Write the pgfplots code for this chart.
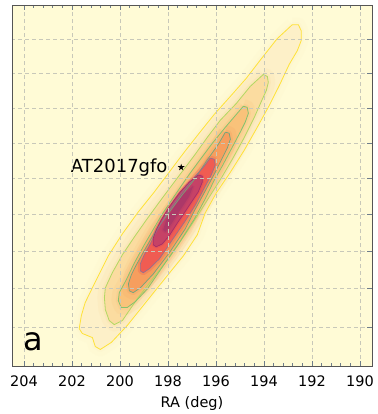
\documentclass[border=0pt]{standalone}
\usepackage{pgfplots}
\usepackage{pgfplotstable}
\usepackage{fontspec}
\setmainfont{DejaVu Sans}
\pgfplotsset{compat=1.18}

\definecolor{bgc}{RGB}{255,251,214}
\definecolor{f1}{RGB}{253,240,200}
\definecolor{f2}{RGB}{251,220,160}
\definecolor{f3}{RGB}{249,194,122}
\definecolor{f4}{RGB}{246,158,94}
\definecolor{f5}{RGB}{240,92,82}
\definecolor{f6}{RGB}{198,66,102}
\definecolor{f7}{RGB}{172,56,104}
\definecolor{c1}{RGB}{255,226,55}
\definecolor{c2}{RGB}{178,216,98}
\definecolor{c3}{RGB}{132,194,110}
\definecolor{c4}{RGB}{112,165,125}
\definecolor{c5}{RGB}{150,112,140}
\definecolor{c6}{RGB}{165,45,105}
\definecolor{tickc}{RGB}{110,125,140}
\definecolor{framec}{RGB}{85,85,85}
\definecolor{gridc}{RGB}{200,200,185}

\pgfdeclareplotmark{fstar}{%
  \pgfpathmoveto{\pgfpointpolar{90}{\pgfplotmarksize}}%
  \pgfpathlineto{\pgfpointpolar{126}{0.382\pgfplotmarksize}}%
  \pgfpathlineto{\pgfpointpolar{162}{\pgfplotmarksize}}%
  \pgfpathlineto{\pgfpointpolar{198}{0.382\pgfplotmarksize}}%
  \pgfpathlineto{\pgfpointpolar{234}{\pgfplotmarksize}}%
  \pgfpathlineto{\pgfpointpolar{270}{0.382\pgfplotmarksize}}%
  \pgfpathlineto{\pgfpointpolar{306}{\pgfplotmarksize}}%
  \pgfpathlineto{\pgfpointpolar{342}{0.382\pgfplotmarksize}}%
  \pgfpathlineto{\pgfpointpolar{18}{\pgfplotmarksize}}%
  \pgfpathlineto{\pgfpointpolar{54}{0.382\pgfplotmarksize}}%
  \pgfpathclose
  \pgfusepathqfill
}

% contour levels (RA, Dec in degrees)
\pgfplotstableread{
ra dec
192.82 -15.16
192.57 -15.16
192.45 -15.51
192.45 -16.10
192.61 -16.68
192.95 -17.49
193.36 -18.71
193.78 -19.86
194.28 -21.11
194.82 -22.41
195.40 -23.65
195.99 -24.81
196.45 -25.91
196.78 -27.11
197.36 -28.25
198.07 -29.37
198.90 -30.68
199.70 -31.93
200.36 -32.80
200.82 -33.16
201.03 -33.01
201.15 -32.55
201.57 -32.34
201.70 -32.09
201.61 -31.41
201.45 -30.73
201.07 -29.74
200.49 -28.25
199.90 -27.05
199.24 -25.86
198.57 -24.75
197.95 -23.65
197.32 -22.52
196.70 -21.45
196.07 -20.37
195.40 -19.34
194.74 -18.30
194.11 -17.15
193.45 -15.98
192.82 -15.16
}\levA

\pgfplotstableread{
ra dec
194.03 -18.07
193.86 -18.19
193.82 -18.53
193.90 -18.99
194.07 -19.51
194.40 -20.54
194.86 -21.79
195.32 -22.92
195.78 -23.98
196.28 -25.03
196.78 -26.08
197.24 -27.00
197.90 -28.25
198.61 -29.42
199.28 -30.53
199.90 -31.67
200.24 -31.88
200.45 -31.67
200.61 -31.10
200.65 -30.47
200.61 -29.95
200.32 -29.15
199.90 -28.19
199.40 -27.22
198.90 -26.29
198.36 -25.31
197.86 -24.42
197.36 -23.53
196.86 -22.63
196.36 -21.68
195.82 -20.71
195.15 -19.74
194.57 -18.76
194.03 -18.07
}\levB

\pgfplotstableread{
ra dec
194.86 -19.91
194.70 -19.97
194.65 -20.31
194.78 -20.82
194.99 -21.39
195.32 -22.24
195.74 -23.31
196.07 -24.09
196.45 -25.14
196.90 -26.24
197.53 -27.54
198.20 -28.78
198.86 -30.01
199.36 -30.68
199.70 -30.99
199.95 -30.99
200.07 -30.63
200.03 -30.21
199.74 -29.53
199.40 -28.62
198.99 -27.65
198.65 -26.89
198.24 -25.97
197.65 -24.81
197.11 -23.76
196.65 -22.92
196.15 -22.02
195.61 -21.11
195.15 -20.37
194.86 -19.91
}\levC

\pgfplotstableread{
ra dec
195.61 -21.39
195.45 -21.45
195.40 -21.79
195.53 -22.30
195.74 -22.86
196.03 -23.65
196.45 -24.70
196.86 -25.69
197.28 -26.78
197.95 -28.09
198.61 -29.21
199.15 -29.95
199.45 -30.21
199.61 -30.11
199.65 -29.74
199.53 -29.26
199.32 -28.73
198.90 -27.76
198.49 -26.84
198.07 -26.08
197.45 -24.98
196.86 -23.98
196.40 -23.03
195.90 -22.07
195.61 -21.39
}\levD

\pgfplotstableread{
ra dec
196.24 -22.86
196.07 -22.92
196.03 -23.25
196.20 -23.81
196.53 -24.64
196.86 -25.47
197.28 -26.35
197.82 -27.38
198.36 -28.41
198.78 -28.94
199.03 -29.15
199.15 -29.05
199.15 -28.67
198.99 -28.19
198.78 -27.71
198.45 -26.84
197.95 -25.75
197.40 -24.75
196.86 -23.87
196.49 -23.31
196.24 -22.86
}\levE

\pgfplotstableread{
ra dec
196.74 -23.81
196.57 -23.87
196.57 -24.20
196.74 -24.75
196.99 -25.25
197.24 -25.75
197.61 -26.46
197.95 -27.16
198.24 -27.60
198.49 -27.76
198.61 -27.65
198.61 -27.27
198.49 -26.84
198.28 -26.29
197.95 -25.58
197.53 -24.81
197.11 -24.20
196.74 -23.81
}\levF

\pgfplotstableread{
ra dec
196.95 -24.42
197.11 -24.98
197.49 -25.75
197.86 -26.51
198.11 -26.95
198.20 -26.84
198.07 -26.29
197.74 -25.58
197.36 -24.86
196.95 -24.42
}\levG

\pgfplotsset{
  soft/.style={draw=#1, draw opacity=0.16, line width=14pt, line join=round},
  solid fill/.style={draw=#1, draw opacity=0.3, line width=5pt, line join=round, fill=#1},
}

\begin{document}
\begin{tikzpicture}
\begin{axis}[
  scale only axis, width=360pt, height=361pt,
  x dir=reverse, xmin=189.5, xmax=204.5,
  ymin=-34, ymax=-14,
  y coord trafo/.code={\pgfmathparse{ln(tan(45+0.5*(#1)))}},
  xtick={190,192,...,204}, minor x tick num=4,
  ytick={-34,-32,...,-14}, minor y tick num=4,
  yticklabels={}, ytick pos=right, xtick pos=both, xticklabel pos=lower,
  major tick length=5pt, minor tick length=3pt,
  every tick/.style={draw=tickc, line width=0.6pt},
  axis line style={draw=framec, line width=0.9pt},
  grid=major,
  major grid style={draw=gridc, dash pattern=on 4pt off 3pt, line width=0.6pt},
  axis background/.style={fill=bgc},
  axis on top,
  /pgf/number format/assume math mode=true,
  xticklabel style={font=\fontsize{14.5}{17}\selectfont, anchor=base, yshift=-20.7pt},
  xlabel={RA (deg)},
  xlabel style={font=\fontsize{14.5}{17}\selectfont, at={(axis description cs:0.5,-0.1136)}, anchor=base},
]
% soft filled levels
\addplot[soft=f1] table[x=ra,y=dec]{\levA};
\addplot[solid fill=f1] table[x=ra,y=dec]{\levA};
\addplot[soft=f2] table[x=ra,y=dec]{\levB};
\addplot[solid fill=f2] table[x=ra,y=dec]{\levB};
\addplot[soft=f3] table[x=ra,y=dec]{\levC};
\addplot[solid fill=f3] table[x=ra,y=dec]{\levC};
\addplot[soft=f4] table[x=ra,y=dec]{\levD};
\addplot[solid fill=f4] table[x=ra,y=dec]{\levD};
\addplot[solid fill=f5] table[x=ra,y=dec]{\levE};
\addplot[fill=f6, draw=f6, draw opacity=0.3, line width=3pt, line join=round] table[x=ra,y=dec]{\levF};
\addplot[fill=f7, draw=f7, draw opacity=0.3, line width=3pt, line join=round] table[x=ra,y=dec]{\levG};
% contour lines
\addplot[draw=c1, line width=0.8pt] table[x=ra,y=dec]{\levA};
\addplot[draw=c2, line width=0.8pt] table[x=ra,y=dec]{\levB};
\addplot[draw=c3, line width=0.8pt] table[x=ra,y=dec]{\levC};
\addplot[draw=c4, line width=0.7pt] table[x=ra,y=dec]{\levD};
\addplot[draw=c5, line width=0.7pt] table[x=ra,y=dec]{\levE};
\addplot[draw=c6, line width=0.7pt] table[x=ra,y=dec]{\levF};
% AT2017gfo
\addplot[only marks, mark=fstar, mark size=3.6pt, black] coordinates {(197.45,-23.38)};
\node[anchor=base east, inner sep=0pt, font=\fontsize{18}{21}\selectfont, xshift=-13.5pt, yshift=-5pt] at (axis cs:197.45,-23.38) {AT2017gfo};
\node[anchor=base west, inner sep=0pt, font=\fontsize{32}{36}\selectfont] at (axis description cs:0.031,0.044) {a};
\end{axis}
\pgfresetboundingbox
\path[use as bounding box] ([shift={(-12pt,-48pt)}]current axis.south west) rectangle ([shift={(6pt,5pt)}]current axis.north east);
\end{tikzpicture}
\end{document}
